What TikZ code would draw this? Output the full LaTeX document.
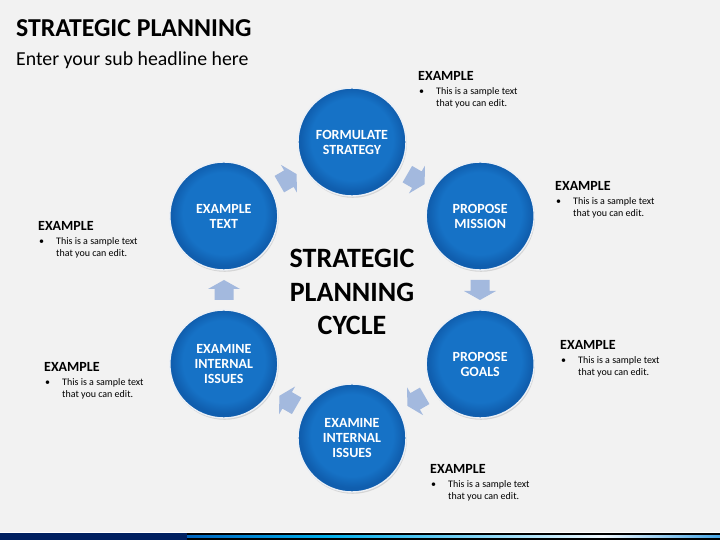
\documentclass[tikz,border=0pt]{standalone}
\usepackage{fontspec}
\setmainfont{Carlito}
\usetikzlibrary{shadows}

\definecolor{slidegray}{RGB}{242,242,242}
\definecolor{discmid}{RGB}{22,114,198}
\definecolor{discdark}{RGB}{16,94,174}
\definecolor{discrim}{RGB}{236,240,246}
\definecolor{arrowblue}{RGB}{163,185,222}
\definecolor{barnavy}{RGB}{0,32,96}
\definecolor{barA}{RGB}{0,100,190}
\definecolor{barB}{RGB}{0,175,235}
\definecolor{barC}{RGB}{110,205,242}
\definecolor{barD}{RGB}{238,246,252}
\definecolor{barE}{RGB}{70,165,228}

\pgfdeclareradialshading{discshade}{\pgfpoint{0bp}{2bp}}{color(0bp)=(discmid); color(19bp)=(discmid); color(24bp)=(discdark); color(25bp)=(discdark); color(50bp)=(discdark)}
\pgfdeclarehorizontalshading{barshade}{10bp}{color(0bp)=(barA); color(25bp)=(barA); color(38bp)=(barB); color(50bp)=(barC); color(64bp)=(barD); color(75bp)=(barE); color(100bp)=(barE)}

\tikzset{
  stage/.style={circle, minimum size=108pt, draw=discrim, line width=1.4pt,
    shading=discshade, drop shadow={shadow xshift=0.8pt, shadow yshift=-1.8pt, opacity=0.25},
    text=white, align=center, font=\bfseries\fontsize{14}{15}\selectfont},
  exhead/.style={inner sep=0pt, anchor=west, font=\bfseries\fontsize{14}{15}\selectfont},
  exbody/.style={inner sep=0pt, anchor=west, align=left, font=\fontsize{10}{12}\selectfont},
}

\begin{document}
\begin{tikzpicture}[x=1pt,y=1pt]
\useasboundingbox (0,0) rectangle (720,540);
\fill[slidegray] (0,0) rectangle (720,540);

\node[inner sep=0pt, anchor=west, font=\bfseries\fontsize{25.8}{30}\selectfont] (title) at (16,512) {STRATEGIC PLANNING};
\node[inner sep=0pt, anchor=west, font=\fontsize{19.8}{24}\selectfont] (subtitle) at (16,480) {Enter your sub headline here};

\coordinate (hub) at (352,250);

% arrows between the stages
\foreach \a in {60,0,-60,-120,180,120}{
\begin{scope}[shift={(hub)},rotate=\a,shift={(128,0)}]
\fill[arrowblue] (-9.5,10) -- (-9.5,-1) -- (-16,-1) -- (0,-10) -- (16,-1) -- (9.5,-1) -- (9.5,10) -- cycle;
\end{scope}
}

\node[stage] (formulate) at ([shift={(hub)}]90:148) {FORMULATE\\STRATEGY};
\node[stage] (mission) at ([shift={(hub)}]30:148) {PROPOSE\\MISSION};
\node[stage] (goals) at ([shift={(hub)}]-30:148) {PROPOSE\\GOALS};
\node[stage] (issuesb) at ([shift={(hub)}]-90:148) {EXAMINE\\INTERNAL\\ISSUES};
\node[stage] (issuesl) at ([shift={(hub)}]210:148) {EXAMINE\\INTERNAL\\ISSUES};
\node[stage] (extext) at ([shift={(hub)}]150:148) {EXAMPLE\\TEXT};

\node[align=center, font=\bfseries\fontsize{28}{33.5}\selectfont] (cycle) at (352,248) {STRATEGIC\\PLANNING\\CYCLE};

% text blocks
\foreach \n/\x/\y in {1/418/464, 2/555/354, 3/38/314, 4/560/195, 5/44/173, 6/430/71}{
\node[exhead] (head\n) at (\x,\y) {EXAMPLE};
\node[exbody] (dot\n) at (\x+1,\y-16) {•};
\node[exbody] (body\n) at (\x+18,\y-22) {This is a sample text\\that you can edit.};
}

\fill[barnavy] (0,0) rectangle (187,7);
\fill[shading=barshade] (187,0) rectangle (720,7);
\draw[white, line width=0.8pt] (0,7.4) -- (720,7.4);

\end{tikzpicture}
\end{document}
